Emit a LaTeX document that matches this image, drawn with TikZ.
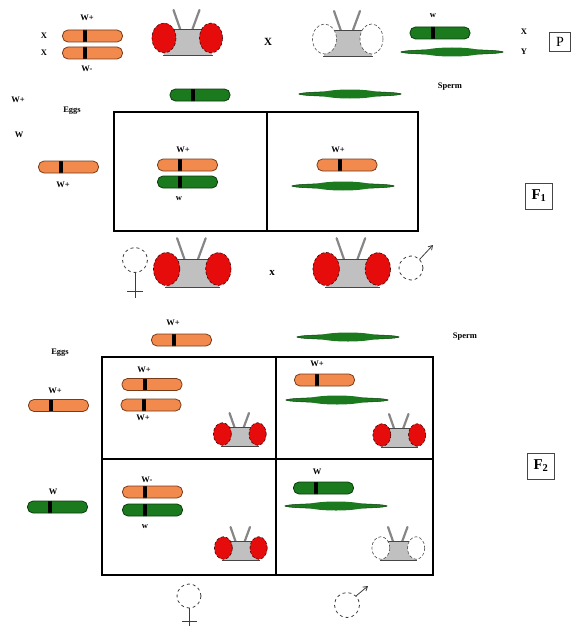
\documentclass[tikz,border=0pt]{standalone}
\usepackage{fontspec}
\setmainfont{Liberation Serif}
\usetikzlibrary{shapes.geometric,arrows.meta}

\definecolor{chrOrange}{RGB}{242,138,78}
\definecolor{chrOrangeLine}{RGB}{120,60,25}
\definecolor{chrGreen}{RGB}{28,122,30}
\definecolor{chrGreenLine}{RGB}{10,60,12}
\definecolor{eyeRed}{RGB}{230,12,12}
\definecolor{flyGray}{RGB}{192,192,192}
\definecolor{flyLine}{RGB}{70,70,70}
\definecolor{symLine}{RGB}{60,60,60}

\tikzset{
  lbl/.style={font=\fontsize{8.5}{9}\selectfont\bfseries, inner sep=0pt},
  crosslbl/.style={font=\fontsize{11}{12}\selectfont\bfseries, inner sep=0pt},
  genbox/.style={draw=flyLine, line width=0.8pt, minimum width=27pt, minimum height=26pt,
    inner sep=0pt, font=\fontsize{15}{16}\selectfont\bfseries},
  chromo/.style={rectangle, rounded corners=5.5pt, minimum width=60pt, minimum height=12pt,
    inner sep=0pt, line width=0.8pt,
    path picture={\fill[black, sharp corners]
      ([xshift=20.5pt,yshift=-8pt]path picture bounding box.west)
      rectangle ([xshift=24.5pt,yshift=8pt]path picture bounding box.west);}},
  xchr/.style={chromo, fill=chrOrange, draw=chrOrangeLine},
  wchr/.style={chromo, fill=chrGreen, draw=chrGreenLine},
  ychr/.style={ellipse, fill=chrGreen, draw=chrGreenLine, line width=0.5pt,
    minimum width=102pt, minimum height=5pt, inner sep=0pt},
  grid/.style={line width=2.4pt, black},
  antenna/.style={line width=2.2pt, draw=flyGray!70!black, line cap=round},
  symbol/.style={draw=symLine, line width=0.8pt},
  pics/fly/.style={code={
    \draw[antenna] (-14,-28) -- (-7,-8);
    \draw[antenna] (12,-28) -- (5,-9);
    \fill[flyGray] (-24,-9) rectangle (24,17);
    \draw[flyLine, line width=0.6pt] (-24,-9) -- (24,-9);
    \draw[flyLine, line width=0.9pt] (-25,17) -- (25,17);
    \draw[fill=#1, draw=#1!30!black, densely dashed, line width=0.6pt]
      (-23.5,0) ellipse [x radius=12, y radius=15];
    \draw[fill=#1, draw=#1!30!black, densely dashed, line width=0.6pt]
      (23.5,0) ellipse [x radius=11.5, y radius=15];
  }},
}

\newcommand{\ychrom}[2]{% name, centre
  \node[ychr] (#1) at #2 {};
  \fill[chrGreen] #2 ellipse [x radius=30, y radius=4.5];
}

\begin{document}
\begin{tikzpicture}[x=1pt, y=-1pt]
\useasboundingbox (0,0) rectangle (575,626);

% ---------------- parental generation ----------------
\node[lbl] (pwp) at (87,18) {W+};
\node[lbl] (px1) at (44,36) {X};
\node[lbl] (px2) at (44,53) {X};
\node[xchr] (pc1) at (92.5,36) {};
\node[xchr] (pc2) at (92.5,53) {};
\node[lbl] (pwm) at (87,69) {W-};
\pic at (187.5,38) {fly=eyeRed};
\node[crosslbl] (pcross) at (268,42) {X};
\pic at (348,39) {fly=white};
\node[lbl] (pw) at (433,16) {w};
\node[wchr] (pc3) at (440,33) {};
\ychrom{py}{(452,52)}
\node[lbl] (pxm) at (524,32) {X};
\node[lbl] (pym) at (524,52) {Y};
\node[genbox, minimum width=21pt, minimum height=19pt, font=\fontsize{14}{15}\selectfont] (pbox) at (560,42) {P};

% ---------------- F1 ----------------
\node[lbl] (f1wp) at (18,100) {W+};
\node[lbl] (f1eggs) at (72,111) {Eggs};
\node[lbl] (f1w) at (19,135) {W};
\node[wchr] (f1sw) at (200,95) {};
\ychrom{f1sy}{(350,94)}
\node[lbl] (f1sperm) at (450,87) {Sperm};

\draw[grid] (114,112) rectangle (418,231);
\draw[grid] (267,112) -- (267,231);

\node[xchr] (f1egg) at (68.5,167) {};
\node[lbl] (f1eggl) at (63,185) {W+};

\node[lbl] (f1al) at (183,150) {W+};
\node[xchr] (f1ax) at (187.5,165) {};
\node[wchr] (f1aw) at (187.5,182) {};
\node[lbl] (f1awl) at (179,199) {w};

\node[lbl] (f1bl) at (338,150) {W+};
\node[xchr] (f1bx) at (347,165) {};
\ychrom{f1by}{(343,186)}

\node[genbox] (f1box) at (539,196) {F$_{\mathbf{1}}$};

% F1 offspring
\draw[symbol, dashed] (135,260) circle [radius=12.5];
\draw[symbol] (135,272.5) -- (135,298);
\draw[symbol] (127,291) -- (143,291);
\pic[scale=1.1] at (192.5,269) {fly=eyeRed};
\node[crosslbl] (f1cross) at (272,273) {x};
\pic[scale=1.1] at (352,269) {fly=eyeRed};
\draw[symbol, dashed] (411,268) circle [radius=12];
\draw[symbol, -{Straight Barb[length=4pt,width=5pt]}] (419.5,259.5) -- (433,245);

% ---------------- F2 ----------------
\node[lbl] (f2wp) at (173,323) {W+};
\node[xchr] (f2sx) at (181.5,340) {};
\ychrom{f2sy}{(348,337)}
\node[lbl] (f2sperm) at (465,337) {Sperm};
\node[lbl] (f2eggs) at (60,353) {Eggs};

\draw[grid] (102,357) rectangle (433,575);
\draw[grid] (276,357) -- (276,575);
\draw[grid] (102,459) -- (433,459);

\node[lbl] (f2e1l) at (55,391) {W+};
\node[xchr] (f2e1) at (58.5,405.5) {};
\node[lbl] (f2e2l) at (53,492) {W};
\node[wchr] (f2e2) at (57.5,507) {};

% top left cell
\node[lbl] (f2al) at (144,370) {W+};
\node[xchr] (f2ax1) at (152,384.5) {};
\node[xchr] (f2ax2) at (151,405) {};
\node[lbl] (f2al2) at (143,418) {W+};
\pic[scale=0.75] at (240,434) {fly=eyeRed};

% top right cell
\node[lbl] (f2bl) at (317,364) {W+};
\node[xchr] (f2bx) at (324.5,380) {};
\ychrom{f2by}{(337,400)}
\pic[scale=0.75] at (399.5,435) {fly=eyeRed};

% bottom left cell
\node[lbl] (f2cl) at (147,480) {W-};
\node[xchr] (f2cx) at (152.5,492) {};
\node[wchr] (f2cw) at (152.5,510) {};
\node[lbl] (f2cl2) at (145,527) {w};
\pic[scale=0.75] at (241,548) {fly=eyeRed};

% bottom right cell
\node[lbl] (f2dl) at (317,472) {W};
\node[wchr] (f2dw) at (323.5,488) {};
\ychrom{f2dy}{(336,506)}
\pic[scale=0.75] at (398.5,548) {fly=white};

\node[genbox] (f2box) at (541,466) {F$_{\mathbf{2}}$};

% sexes of the F2 columns
\draw[symbol, dashed] (189,596) circle [radius=12];
\draw[symbol] (189,608) -- (189,630);
\draw[symbol] (182,621) -- (197,621);
\draw[symbol, dashed] (347,605) circle [radius=12.5];
\draw[symbol, -{Straight Barb[length=4pt,width=5pt]}] (356,596) -- (368,586);
\end{tikzpicture}
\end{document}
